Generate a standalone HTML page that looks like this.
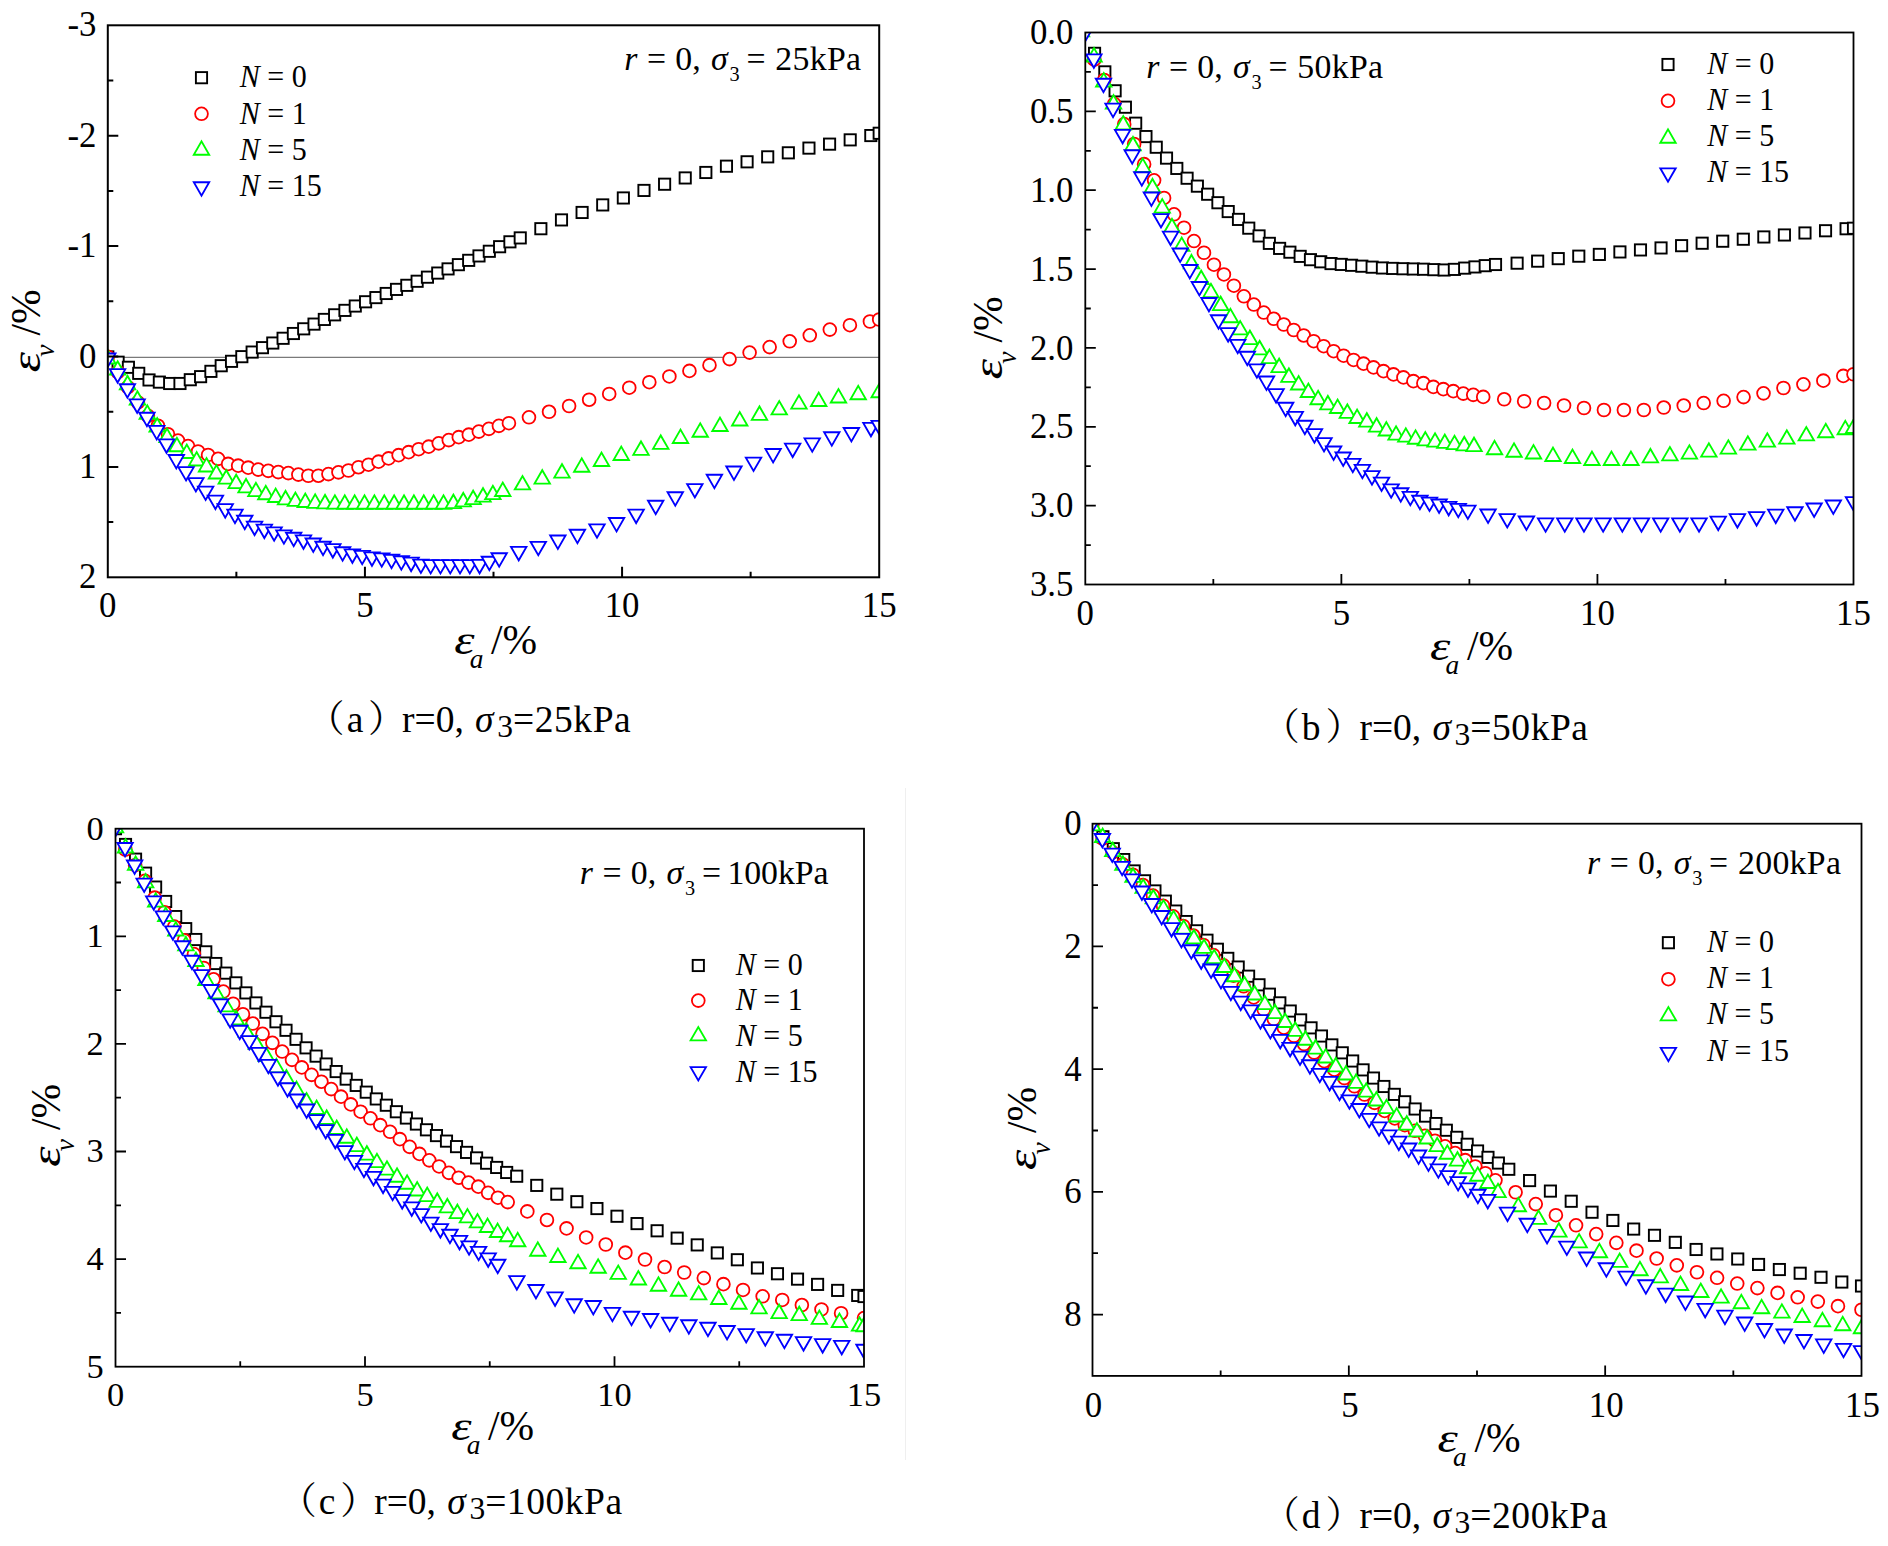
<!DOCTYPE html>
<html lang="zh"><head><meta charset="utf-8"><title>Volumetric strain vs axial strain</title>
<style>html,body{margin:0;padding:0;background:#fff}svg{display:block}text{font-family:'Liberation Serif', 'Noto Serif CJK SC', serif;fill:#000}</style></head><body>
<svg width="1888" height="1546" viewBox="0 0 1888 1546">
<rect width="1888" height="1546" fill="#fff"/>
<g class="panel">
<clipPath id="cp0"><rect x="107.8" y="25.3" width="771.4" height="552"/></clipPath>
<line x1="107.8" y1="357.3" x2="879.2" y2="357.3" stroke="#7a7a7a" stroke-width="1.2"/>
<g clip-path="url(#cp0)" fill="#fff">
<g stroke="#000000" stroke-width="1.9">
<rect x="102.2" y="351.3" width="11.2" height="11.2"/>
<rect x="112.51" y="356.61" width="11.2" height="11.2"/>
<rect x="122.82" y="361.69" width="11.2" height="11.2"/>
<rect x="133.13" y="367.74" width="11.2" height="11.2"/>
<rect x="143.44" y="374.35" width="11.2" height="11.2"/>
<rect x="153.76" y="376.51" width="11.2" height="11.2"/>
<rect x="164.07" y="377.9" width="11.2" height="11.2"/>
<rect x="174.38" y="377.89" width="11.2" height="11.2"/>
<rect x="184.69" y="374.11" width="11.2" height="11.2"/>
<rect x="195" y="371.06" width="11.2" height="11.2"/>
<rect x="205.31" y="365.75" width="11.2" height="11.2"/>
<rect x="215.62" y="360.12" width="11.2" height="11.2"/>
<rect x="225.93" y="355.72" width="11.2" height="11.2"/>
<rect x="236.24" y="351.07" width="11.2" height="11.2"/>
<rect x="246.55" y="346.47" width="11.2" height="11.2"/>
<rect x="256.87" y="342.07" width="11.2" height="11.2"/>
<rect x="267.18" y="337.43" width="11.2" height="11.2"/>
<rect x="277.49" y="332.68" width="11.2" height="11.2"/>
<rect x="287.8" y="327.91" width="11.2" height="11.2"/>
<rect x="298.11" y="323.22" width="11.2" height="11.2"/>
<rect x="308.42" y="318.51" width="11.2" height="11.2"/>
<rect x="318.73" y="313.83" width="11.2" height="11.2"/>
<rect x="329.04" y="309.23" width="11.2" height="11.2"/>
<rect x="339.35" y="304.78" width="11.2" height="11.2"/>
<rect x="349.67" y="300.43" width="11.2" height="11.2"/>
<rect x="359.98" y="296.18" width="11.2" height="11.2"/>
<rect x="370.29" y="292" width="11.2" height="11.2"/>
<rect x="380.6" y="287.88" width="11.2" height="11.2"/>
<rect x="390.91" y="283.79" width="11.2" height="11.2"/>
<rect x="401.22" y="279.72" width="11.2" height="11.2"/>
<rect x="411.53" y="275.66" width="11.2" height="11.2"/>
<rect x="421.84" y="271.58" width="11.2" height="11.2"/>
<rect x="432.15" y="267.46" width="11.2" height="11.2"/>
<rect x="442.46" y="263.3" width="11.2" height="11.2"/>
<rect x="452.78" y="259.07" width="11.2" height="11.2"/>
<rect x="463.09" y="254.75" width="11.2" height="11.2"/>
<rect x="473.4" y="250.32" width="11.2" height="11.2"/>
<rect x="483.71" y="245.68" width="11.2" height="11.2"/>
<rect x="494.02" y="241.11" width="11.2" height="11.2"/>
<rect x="504.33" y="236.22" width="11.2" height="11.2"/>
<rect x="514.64" y="232.3" width="11.2" height="11.2"/>
<rect x="535.26" y="223.1" width="11.2" height="11.2"/>
<rect x="555.89" y="214.31" width="11.2" height="11.2"/>
<rect x="576.51" y="206.86" width="11.2" height="11.2"/>
<rect x="597.13" y="199.32" width="11.2" height="11.2"/>
<rect x="617.75" y="192.36" width="11.2" height="11.2"/>
<rect x="638.37" y="184.83" width="11.2" height="11.2"/>
<rect x="659" y="178.62" width="11.2" height="11.2"/>
<rect x="679.62" y="172.34" width="11.2" height="11.2"/>
<rect x="700.24" y="166.87" width="11.2" height="11.2"/>
<rect x="720.86" y="160.6" width="11.2" height="11.2"/>
<rect x="741.48" y="156.21" width="11.2" height="11.2"/>
<rect x="762.11" y="151.25" width="11.2" height="11.2"/>
<rect x="782.73" y="147.22" width="11.2" height="11.2"/>
<rect x="803.35" y="142.5" width="11.2" height="11.2"/>
<rect x="823.97" y="138.54" width="11.2" height="11.2"/>
<rect x="844.6" y="134.26" width="11.2" height="11.2"/>
<rect x="865.22" y="129.95" width="11.2" height="11.2"/>
<rect x="873.6" y="127.66" width="11.2" height="11.2"/>
</g>
<g stroke="#ff0000" stroke-width="1.8">
<circle cx="107.8" cy="356.69" r="6.4"/>
<circle cx="117.83" cy="371.99" r="6.4"/>
<circle cx="127.86" cy="387.2" r="6.4"/>
<circle cx="137.88" cy="402.42" r="6.4"/>
<circle cx="147.91" cy="415.8" r="6.4"/>
<circle cx="157.94" cy="425.75" r="6.4"/>
<circle cx="167.97" cy="434.2" r="6.4"/>
<circle cx="178" cy="440.56" r="6.4"/>
<circle cx="188.03" cy="446.07" r="6.4"/>
<circle cx="198.05" cy="451.51" r="6.4"/>
<circle cx="208.08" cy="454.96" r="6.4"/>
<circle cx="218.11" cy="458.84" r="6.4"/>
<circle cx="228.14" cy="463.91" r="6.4"/>
<circle cx="238.17" cy="465.63" r="6.4"/>
<circle cx="248.19" cy="467.64" r="6.4"/>
<circle cx="258.22" cy="469.61" r="6.4"/>
<circle cx="268.25" cy="470.84" r="6.4"/>
<circle cx="278.28" cy="472.08" r="6.4"/>
<circle cx="288.31" cy="473.1" r="6.4"/>
<circle cx="298.34" cy="474.62" r="6.4"/>
<circle cx="308.36" cy="475.75" r="6.4"/>
<circle cx="318.39" cy="475.73" r="6.4"/>
<circle cx="328.42" cy="474.1" r="6.4"/>
<circle cx="338.45" cy="472.34" r="6.4"/>
<circle cx="348.48" cy="470.51" r="6.4"/>
<circle cx="358.5" cy="467.22" r="6.4"/>
<circle cx="368.53" cy="464.71" r="6.4"/>
<circle cx="378.56" cy="461.67" r="6.4"/>
<circle cx="388.59" cy="458.39" r="6.4"/>
<circle cx="398.62" cy="455.15" r="6.4"/>
<circle cx="408.65" cy="452.15" r="6.4"/>
<circle cx="418.67" cy="449.19" r="6.4"/>
<circle cx="428.7" cy="446.65" r="6.4"/>
<circle cx="438.73" cy="443.35" r="6.4"/>
<circle cx="448.76" cy="440.11" r="6.4"/>
<circle cx="458.79" cy="437.16" r="6.4"/>
<circle cx="468.82" cy="434.63" r="6.4"/>
<circle cx="478.84" cy="431.62" r="6.4"/>
<circle cx="488.87" cy="428.85" r="6.4"/>
<circle cx="498.9" cy="425.86" r="6.4"/>
<circle cx="508.93" cy="423.2" r="6.4"/>
<circle cx="528.98" cy="417.29" r="6.4"/>
<circle cx="549.04" cy="411.78" r="6.4"/>
<circle cx="569.1" cy="405.99" r="6.4"/>
<circle cx="589.15" cy="399.73" r="6.4"/>
<circle cx="609.21" cy="393.96" r="6.4"/>
<circle cx="629.27" cy="387.7" r="6.4"/>
<circle cx="649.32" cy="382.2" r="6.4"/>
<circle cx="669.38" cy="376.43" r="6.4"/>
<circle cx="689.44" cy="370.92" r="6.4"/>
<circle cx="709.49" cy="365.14" r="6.4"/>
<circle cx="729.55" cy="359.09" r="6.4"/>
<circle cx="749.6" cy="352.6" r="6.4"/>
<circle cx="769.66" cy="347.1" r="6.4"/>
<circle cx="789.72" cy="341.32" r="6.4"/>
<circle cx="809.77" cy="335.3" r="6.4"/>
<circle cx="829.83" cy="329.6" r="6.4"/>
<circle cx="849.89" cy="325.18" r="6.4"/>
<circle cx="869.94" cy="321.51" r="6.4"/>
<circle cx="879.2" cy="319.51" r="6.4"/>
</g>
<g stroke="#00ff00" stroke-width="1.85">
<path d="M100.1 363.51L115.5 363.51L107.8 350.11Z"/>
<path d="M109.97 374.67L125.37 374.67L117.67 361.27Z"/>
<path d="M119.85 389.33L135.25 389.33L127.55 375.93Z"/>
<path d="M129.72 404.68L145.12 404.68L137.42 391.28Z"/>
<path d="M139.6 418.75L155 418.75L147.3 405.35Z"/>
<path d="M149.47 431.57L164.87 431.57L157.17 418.17Z"/>
<path d="M159.34 442.04L174.74 442.04L167.04 428.64Z"/>
<path d="M169.22 451.23L184.62 451.23L176.92 437.83Z"/>
<path d="M179.09 457.95L194.49 457.95L186.79 444.55Z"/>
<path d="M188.97 465.47L204.37 465.47L196.67 452.07Z"/>
<path d="M198.84 471.47L214.24 471.47L206.54 458.07Z"/>
<path d="M208.71 478.53L224.11 478.53L216.41 465.13Z"/>
<path d="M218.59 483.63L233.99 483.63L226.29 470.23Z"/>
<path d="M228.46 488.11L243.86 488.11L236.16 474.71Z"/>
<path d="M238.33 492.36L253.73 492.36L246.03 478.96Z"/>
<path d="M248.21 496.16L263.61 496.16L255.91 482.76Z"/>
<path d="M258.08 499.21L273.48 499.21L265.78 485.81Z"/>
<path d="M267.96 501.98L283.36 501.98L275.66 488.58Z"/>
<path d="M277.83 504.32L293.23 504.32L285.53 490.92Z"/>
<path d="M287.7 505.94L303.1 505.94L295.4 492.54Z"/>
<path d="M297.58 507L312.98 507L305.28 493.6Z"/>
<path d="M307.45 507.8L322.85 507.8L315.15 494.4Z"/>
<path d="M317.33 508.35L332.73 508.35L325.03 494.95Z"/>
<path d="M327.2 508.67L342.6 508.67L334.9 495.27Z"/>
<path d="M337.07 508.7L352.47 508.7L344.77 495.3Z"/>
<path d="M346.95 508.7L362.35 508.7L354.65 495.3Z"/>
<path d="M356.82 508.7L372.22 508.7L364.52 495.3Z"/>
<path d="M366.7 508.7L382.1 508.7L374.4 495.3Z"/>
<path d="M376.57 508.7L391.97 508.7L384.27 495.3Z"/>
<path d="M386.44 508.7L401.84 508.7L394.14 495.3Z"/>
<path d="M396.32 508.7L411.72 508.7L404.02 495.3Z"/>
<path d="M406.19 508.7L421.59 508.7L413.89 495.3Z"/>
<path d="M416.07 508.7L431.47 508.7L423.77 495.3Z"/>
<path d="M425.94 508.7L441.34 508.7L433.64 495.3Z"/>
<path d="M435.81 508.7L451.21 508.7L443.51 495.3Z"/>
<path d="M445.69 508.13L461.09 508.13L453.39 494.73Z"/>
<path d="M455.56 506.38L470.96 506.38L463.26 492.98Z"/>
<path d="M465.44 504.07L480.84 504.07L473.14 490.67Z"/>
<path d="M475.31 501.57L490.71 501.57L483.01 488.17Z"/>
<path d="M485.18 499.17L500.58 499.17L492.88 485.77Z"/>
<path d="M495.06 496.03L510.46 496.03L502.76 482.63Z"/>
<path d="M514.8 489.43L530.2 489.43L522.5 476.03Z"/>
<path d="M534.55 483.6L549.95 483.6L542.25 470.2Z"/>
<path d="M554.3 477.6L569.7 477.6L562 464.2Z"/>
<path d="M574.05 471.77L589.45 471.77L581.75 458.37Z"/>
<path d="M593.8 465.95L609.2 465.95L601.5 452.55Z"/>
<path d="M613.54 460.02L628.94 460.02L621.24 446.62Z"/>
<path d="M633.29 454.84L648.69 454.84L640.99 441.44Z"/>
<path d="M653.04 448.85L668.44 448.85L660.74 435.45Z"/>
<path d="M672.79 443.03L688.19 443.03L680.49 429.63Z"/>
<path d="M692.54 436.7L707.94 436.7L700.24 423.3Z"/>
<path d="M712.28 430.95L727.68 430.95L719.98 417.55Z"/>
<path d="M732.03 425.53L747.43 425.53L739.73 412.13Z"/>
<path d="M751.78 419.85L767.18 419.85L759.48 406.45Z"/>
<path d="M771.53 414.42L786.93 414.42L779.23 401.02Z"/>
<path d="M791.27 408.65L806.67 408.65L798.97 395.25Z"/>
<path d="M811.02 405.99L826.42 405.99L818.72 392.59Z"/>
<path d="M830.77 402.54L846.17 402.54L838.47 389.14Z"/>
<path d="M850.52 399.27L865.92 399.27L858.22 385.87Z"/>
<path d="M871.5 397.2L886.9 397.2L879.2 383.8Z"/>
</g>
<g stroke="#0000ff" stroke-width="1.85">
<path d="M100.1 353.47L115.5 353.47L107.8 366.87Z"/>
<path d="M109.88 369.16L125.28 369.16L117.58 382.56Z"/>
<path d="M119.67 384.26L135.07 384.26L127.37 397.66Z"/>
<path d="M129.45 399.37L144.85 399.37L137.15 412.77Z"/>
<path d="M139.24 412.78L154.64 412.78L146.94 426.18Z"/>
<path d="M149.02 425.94L164.42 425.94L156.72 439.34Z"/>
<path d="M158.8 439.43L174.2 439.43L166.5 452.83Z"/>
<path d="M168.59 455.01L183.99 455.01L176.29 468.41Z"/>
<path d="M178.37 467.11L193.77 467.11L186.07 480.51Z"/>
<path d="M188.16 478.05L203.56 478.05L195.86 491.45Z"/>
<path d="M197.94 486.59L213.34 486.59L205.64 499.99Z"/>
<path d="M207.72 495.68L223.12 495.68L215.42 509.08Z"/>
<path d="M217.51 504.19L232.91 504.19L225.21 517.59Z"/>
<path d="M227.29 509.69L242.69 509.69L234.99 523.09Z"/>
<path d="M237.07 515.76L252.47 515.76L244.77 529.16Z"/>
<path d="M246.86 521.62L262.26 521.62L254.56 535.02Z"/>
<path d="M256.64 524.68L272.04 524.68L264.34 538.08Z"/>
<path d="M266.43 527.31L281.83 527.31L274.13 540.71Z"/>
<path d="M276.21 530.34L291.61 530.34L283.91 543.74Z"/>
<path d="M285.99 532.79L301.39 532.79L293.69 546.19Z"/>
<path d="M295.78 535.41L311.18 535.41L303.48 548.81Z"/>
<path d="M305.56 538.45L320.96 538.45L313.26 551.85Z"/>
<path d="M315.35 541.7L330.75 541.7L323.05 555.1Z"/>
<path d="M325.13 544.14L340.53 544.14L332.83 557.54Z"/>
<path d="M334.91 547.23L350.31 547.23L342.61 560.63Z"/>
<path d="M344.7 549.37L360.1 549.37L352.4 562.77Z"/>
<path d="M354.48 550.86L369.88 550.86L362.18 564.26Z"/>
<path d="M364.27 552.37L379.67 552.37L371.97 565.77Z"/>
<path d="M374.05 553.34L389.45 553.34L381.75 566.74Z"/>
<path d="M383.83 554.71L399.23 554.71L391.53 568.11Z"/>
<path d="M393.62 556.21L409.02 556.21L401.32 569.61Z"/>
<path d="M403.4 557.67L418.8 557.67L411.1 571.07Z"/>
<path d="M413.19 559.58L428.59 559.58L420.89 572.98Z"/>
<path d="M422.97 560.1L438.37 560.1L430.67 573.5Z"/>
<path d="M432.75 560.1L448.15 560.1L440.45 573.5Z"/>
<path d="M442.54 560.1L457.94 560.1L450.24 573.5Z"/>
<path d="M452.32 560.1L467.72 560.1L460.02 573.5Z"/>
<path d="M462.11 560.1L477.51 560.1L469.81 573.5Z"/>
<path d="M471.89 559.89L487.29 559.89L479.59 573.29Z"/>
<path d="M481.67 556.7L497.07 556.7L489.37 570.1Z"/>
<path d="M491.46 553.28L506.86 553.28L499.16 566.68Z"/>
<path d="M511.02 546.91L526.42 546.91L518.72 560.31Z"/>
<path d="M530.59 541.82L545.99 541.82L538.29 555.22Z"/>
<path d="M550.16 535.54L565.56 535.54L557.86 548.94Z"/>
<path d="M569.73 529.79L585.13 529.79L577.43 543.19Z"/>
<path d="M589.3 524.33L604.7 524.33L597 537.73Z"/>
<path d="M608.86 518L624.26 518L616.56 531.4Z"/>
<path d="M628.43 509.66L643.83 509.66L636.13 523.06Z"/>
<path d="M648 500.77L663.4 500.77L655.7 514.17Z"/>
<path d="M667.57 492.26L682.97 492.26L675.27 505.66Z"/>
<path d="M687.14 484.06L702.54 484.06L694.84 497.46Z"/>
<path d="M706.7 474.79L722.1 474.79L714.4 488.19Z"/>
<path d="M726.27 466.51L741.67 466.51L733.97 479.91Z"/>
<path d="M745.84 457.59L761.24 457.59L753.54 470.99Z"/>
<path d="M765.41 449.01L780.81 449.01L773.11 462.41Z"/>
<path d="M784.97 443.66L800.37 443.66L792.67 457.06Z"/>
<path d="M804.54 438.36L819.94 438.36L812.24 451.76Z"/>
<path d="M824.11 432.28L839.51 432.28L831.81 445.68Z"/>
<path d="M843.68 427.97L859.08 427.97L851.38 441.37Z"/>
<path d="M863.25 422.93L878.65 422.93L870.95 436.33Z"/>
<path d="M871.5 420.81L886.9 420.81L879.2 434.21Z"/>
</g>
</g>
<g stroke="#000" stroke-width="2" fill="none" stroke-linecap="butt">
<rect x="107.8" y="25.3" width="771.4" height="552"/>
<path d="M364.93 577.3v-10.5M622.07 577.3v-10.5M236.37 577.3v-5.5M493.5 577.3v-5.5M750.63 577.3v-5.5M107.8 135.7h10.5M107.8 246.1h10.5M107.8 356.5h10.5M107.8 466.9h10.5M107.8 80.5h5.5M107.8 190.9h5.5M107.8 301.3h5.5M107.8 411.7h5.5M107.8 522.1h5.5"/>
</g>
<g font-size="34.8" fill="#000">
<g text-anchor="end">
<text x="96.5" y="36.3">-3</text>
<text x="96.5" y="146.7">-2</text>
<text x="96.5" y="257.1">-1</text>
<text x="96.5" y="367.5">0</text>
<text x="96.5" y="477.9">1</text>
<text x="96.5" y="588.3">2</text>
</g><g text-anchor="middle">
<text x="107.8" y="617.1">0</text>
<text x="364.93" y="617.1">5</text>
<text x="622.07" y="617.1">10</text>
<text x="879.2" y="617.1">15</text>
</g></g>
<g transform="translate(454.5 653.5)"><text font-size="41.5" font-style="italic" transform="scale(1.24 1)" x="-0.3" y="0">ε</text><text font-size="27.39" font-style="italic" x="15.2" y="14.2">a</text><text font-size="41.5" x="36.6" y="0">/%</text></g>
<g transform="translate(39.6 372) rotate(-90)"><text font-size="41.5" font-style="italic" transform="scale(1.24 1)" x="-0.3" y="0">ε</text><text font-size="27.39" font-style="italic" x="15.2" y="14.2">v</text><text font-size="41.5" x="36.6" y="0">/%</text></g>
<text y="70" font-size="33.8"><tspan x="624.3" font-style="italic">r</tspan><tspan x="647">=</tspan><tspan x="675.3">0,</tspan><tspan x="711" font-style="italic">σ</tspan><tspan x="729.5" font-size="20.28" dy="11.15">3</tspan><tspan x="746.4" dy="-11.15">=</tspan><tspan x="775.3" letter-spacing="0.3">25kPa</tspan></text>
<g fill="#fff">
<g stroke="#000000" stroke-width="1.9"><rect x="195.9" y="72.1" width="11.2" height="11.2"/></g>
<g stroke="#ff0000" stroke-width="1.8"><circle cx="201.5" cy="113.8" r="6.4"/></g>
<g stroke="#00ff00" stroke-width="1.85"><path d="M193.8 154.7L209.2 154.7L201.5 141.3Z"/></g>
<g stroke="#0000ff" stroke-width="1.85"><path d="M193.8 182.2L209.2 182.2L201.5 195.6Z"/></g>
</g>
<g font-size="30">
<text transform="translate(239.8 87.2) scale(1 1.08)"><tspan font-style="italic">N</tspan> = 0</text>
<text transform="translate(239.8 123.6) scale(1 1.08)"><tspan font-style="italic">N</tspan> = 1</text>
<text transform="translate(239.8 159.5) scale(1 1.08)"><tspan font-style="italic">N</tspan> = 5</text>
<text transform="translate(239.8 195.7) scale(1 1.08)"><tspan font-style="italic">N</tspan> = 15</text>
</g>
<text y="731.5" font-size="37.5"><tspan x="307.05">（</tspan><tspan x="346.65">a</tspan><tspan x="368.1">）</tspan><tspan x="402.1">r=0, </tspan><tspan font-style="italic" x="475.1">σ</tspan><tspan x="497.3" font-size="31.5" dy="5.25">3</tspan><tspan dy="-5.25" letter-spacing="0.55">=25kPa</tspan></text>
</g>
<g class="panel">
<clipPath id="cp1"><rect x="1085.3" y="32.5" width="768.2" height="552"/></clipPath>
<g clip-path="url(#cp1)" fill="#fff">
<g stroke="#000000" stroke-width="1.9">
<rect x="1079.7" y="18.4" width="11.2" height="11.2"/>
<rect x="1088.96" y="47.73" width="11.2" height="11.2"/>
<rect x="1099.24" y="66.27" width="11.2" height="11.2"/>
<rect x="1109.52" y="85.2" width="11.2" height="11.2"/>
<rect x="1119.8" y="101.59" width="11.2" height="11.2"/>
<rect x="1130.08" y="117.6" width="11.2" height="11.2"/>
<rect x="1140.36" y="130.97" width="11.2" height="11.2"/>
<rect x="1150.64" y="141.63" width="11.2" height="11.2"/>
<rect x="1160.92" y="152.51" width="11.2" height="11.2"/>
<rect x="1171.21" y="162.81" width="11.2" height="11.2"/>
<rect x="1181.49" y="172.62" width="11.2" height="11.2"/>
<rect x="1191.77" y="180.55" width="11.2" height="11.2"/>
<rect x="1202.05" y="188.62" width="11.2" height="11.2"/>
<rect x="1212.33" y="197.13" width="11.2" height="11.2"/>
<rect x="1222.61" y="205.96" width="11.2" height="11.2"/>
<rect x="1232.89" y="213.8" width="11.2" height="11.2"/>
<rect x="1243.17" y="222.56" width="11.2" height="11.2"/>
<rect x="1253.45" y="230.32" width="11.2" height="11.2"/>
<rect x="1263.74" y="237.76" width="11.2" height="11.2"/>
<rect x="1274.02" y="242.78" width="11.2" height="11.2"/>
<rect x="1284.3" y="246.58" width="11.2" height="11.2"/>
<rect x="1294.58" y="250.76" width="11.2" height="11.2"/>
<rect x="1304.86" y="254.08" width="11.2" height="11.2"/>
<rect x="1315.14" y="256.18" width="11.2" height="11.2"/>
<rect x="1325.42" y="257.98" width="11.2" height="11.2"/>
<rect x="1335.7" y="258.81" width="11.2" height="11.2"/>
<rect x="1345.98" y="259.68" width="11.2" height="11.2"/>
<rect x="1356.26" y="260.59" width="11.2" height="11.2"/>
<rect x="1366.55" y="261.56" width="11.2" height="11.2"/>
<rect x="1376.83" y="262.37" width="11.2" height="11.2"/>
<rect x="1387.11" y="262.81" width="11.2" height="11.2"/>
<rect x="1397.39" y="263.13" width="11.2" height="11.2"/>
<rect x="1407.67" y="263.38" width="11.2" height="11.2"/>
<rect x="1417.95" y="263.62" width="11.2" height="11.2"/>
<rect x="1428.23" y="264.06" width="11.2" height="11.2"/>
<rect x="1438.51" y="264.4" width="11.2" height="11.2"/>
<rect x="1448.79" y="263.79" width="11.2" height="11.2"/>
<rect x="1459.08" y="262.52" width="11.2" height="11.2"/>
<rect x="1469.36" y="261.33" width="11.2" height="11.2"/>
<rect x="1479.64" y="260.08" width="11.2" height="11.2"/>
<rect x="1489.92" y="258.9" width="11.2" height="11.2"/>
<rect x="1511.51" y="257.57" width="11.2" height="11.2"/>
<rect x="1532.07" y="255.55" width="11.2" height="11.2"/>
<rect x="1552.63" y="253.03" width="11.2" height="11.2"/>
<rect x="1573.19" y="250.57" width="11.2" height="11.2"/>
<rect x="1593.75" y="248.81" width="11.2" height="11.2"/>
<rect x="1614.32" y="246.33" width="11.2" height="11.2"/>
<rect x="1634.88" y="244.33" width="11.2" height="11.2"/>
<rect x="1655.44" y="242.34" width="11.2" height="11.2"/>
<rect x="1676" y="240.08" width="11.2" height="11.2"/>
<rect x="1696.56" y="237.61" width="11.2" height="11.2"/>
<rect x="1717.13" y="235.6" width="11.2" height="11.2"/>
<rect x="1737.69" y="233.62" width="11.2" height="11.2"/>
<rect x="1758.25" y="231.36" width="11.2" height="11.2"/>
<rect x="1778.81" y="229.38" width="11.2" height="11.2"/>
<rect x="1799.38" y="227.38" width="11.2" height="11.2"/>
<rect x="1819.94" y="225.15" width="11.2" height="11.2"/>
<rect x="1840.5" y="223.14" width="11.2" height="11.2"/>
<rect x="1847.9" y="222.65" width="11.2" height="11.2"/>
</g>
<g stroke="#ff0000" stroke-width="1.8">
<circle cx="1085.3" cy="26" r="6.4"/>
<circle cx="1094.25" cy="59.63" r="6.4"/>
<circle cx="1104.22" cy="80" r="6.4"/>
<circle cx="1114.2" cy="103.87" r="6.4"/>
<circle cx="1124.17" cy="124.15" r="6.4"/>
<circle cx="1134.14" cy="143.99" r="6.4"/>
<circle cx="1144.12" cy="164.13" r="6.4"/>
<circle cx="1154.09" cy="180.32" r="6.4"/>
<circle cx="1164.07" cy="197.94" r="6.4"/>
<circle cx="1174.04" cy="214.32" r="6.4"/>
<circle cx="1184.01" cy="227.68" r="6.4"/>
<circle cx="1193.99" cy="241.05" r="6.4"/>
<circle cx="1203.96" cy="252.75" r="6.4"/>
<circle cx="1213.94" cy="264.7" r="6.4"/>
<circle cx="1223.91" cy="274.45" r="6.4"/>
<circle cx="1233.88" cy="285.7" r="6.4"/>
<circle cx="1243.86" cy="296.31" r="6.4"/>
<circle cx="1253.83" cy="304.57" r="6.4"/>
<circle cx="1263.8" cy="312.54" r="6.4"/>
<circle cx="1273.78" cy="318.77" r="6.4"/>
<circle cx="1283.75" cy="324.5" r="6.4"/>
<circle cx="1293.73" cy="329.99" r="6.4"/>
<circle cx="1303.7" cy="335.47" r="6.4"/>
<circle cx="1313.67" cy="341.21" r="6.4"/>
<circle cx="1323.65" cy="346.2" r="6.4"/>
<circle cx="1333.62" cy="351.19" r="6.4"/>
<circle cx="1343.59" cy="355.68" r="6.4"/>
<circle cx="1353.57" cy="359.93" r="6.4"/>
<circle cx="1363.54" cy="363.67" r="6.4"/>
<circle cx="1373.52" cy="367.41" r="6.4"/>
<circle cx="1383.49" cy="371.16" r="6.4"/>
<circle cx="1393.46" cy="374.41" r="6.4"/>
<circle cx="1403.44" cy="377.4" r="6.4"/>
<circle cx="1413.41" cy="381.16" r="6.4"/>
<circle cx="1423.38" cy="383.16" r="6.4"/>
<circle cx="1433.36" cy="386.89" r="6.4"/>
<circle cx="1443.33" cy="389.16" r="6.4"/>
<circle cx="1453.31" cy="391.15" r="6.4"/>
<circle cx="1463.28" cy="393.58" r="6.4"/>
<circle cx="1473.25" cy="394.85" r="6.4"/>
<circle cx="1483.23" cy="396.92" r="6.4"/>
<circle cx="1504.2" cy="399.27" r="6.4"/>
<circle cx="1524.15" cy="401.26" r="6.4"/>
<circle cx="1544.09" cy="403.01" r="6.4"/>
<circle cx="1564.04" cy="405.51" r="6.4"/>
<circle cx="1583.99" cy="408" r="6.4"/>
<circle cx="1603.94" cy="410" r="6.4"/>
<circle cx="1623.89" cy="410" r="6.4"/>
<circle cx="1643.83" cy="410" r="6.4"/>
<circle cx="1663.78" cy="407.52" r="6.4"/>
<circle cx="1683.73" cy="405.53" r="6.4"/>
<circle cx="1703.68" cy="403.04" r="6.4"/>
<circle cx="1723.62" cy="400.8" r="6.4"/>
<circle cx="1743.57" cy="397.08" r="6.4"/>
<circle cx="1763.52" cy="393.36" r="6.4"/>
<circle cx="1783.47" cy="388.01" r="6.4"/>
<circle cx="1803.41" cy="384.36" r="6.4"/>
<circle cx="1823.36" cy="380.63" r="6.4"/>
<circle cx="1843.31" cy="375.88" r="6.4"/>
<circle cx="1853.5" cy="374.25" r="6.4"/>
</g>
<g stroke="#00ff00" stroke-width="1.85">
<path d="M1073.76 36.2L1089.16 36.2L1081.46 22.8Z"/>
<path d="M1086.32 61.49L1101.72 61.49L1094.02 48.09Z"/>
<path d="M1096.06 86.53L1111.46 86.53L1103.76 73.13Z"/>
<path d="M1105.81 108.55L1121.21 108.55L1113.51 95.15Z"/>
<path d="M1115.55 129.52L1130.95 129.52L1123.25 116.12Z"/>
<path d="M1125.29 150.38L1140.69 150.38L1132.99 136.98Z"/>
<path d="M1135.04 171.97L1150.44 171.97L1142.74 158.57Z"/>
<path d="M1144.78 192.36L1160.18 192.36L1152.48 178.96Z"/>
<path d="M1154.52 212.56L1169.92 212.56L1162.22 199.16Z"/>
<path d="M1164.27 232.19L1179.67 232.19L1171.97 218.79Z"/>
<path d="M1174.01 250.91L1189.41 250.91L1181.71 237.51Z"/>
<path d="M1183.75 268.34L1199.15 268.34L1191.45 254.94Z"/>
<path d="M1193.5 284.12L1208.9 284.12L1201.2 270.72Z"/>
<path d="M1203.24 297.29L1218.64 297.29L1210.94 283.89Z"/>
<path d="M1212.98 310.07L1228.38 310.07L1220.68 296.67Z"/>
<path d="M1222.73 322.23L1238.13 322.23L1230.43 308.83Z"/>
<path d="M1232.47 334.39L1247.87 334.39L1240.17 320.99Z"/>
<path d="M1242.21 344.12L1257.61 344.12L1249.91 330.72Z"/>
<path d="M1251.96 354.35L1267.36 354.35L1259.66 340.95Z"/>
<path d="M1261.7 363.09L1277.1 363.09L1269.4 349.69Z"/>
<path d="M1271.44 372.08L1286.84 372.08L1279.14 358.68Z"/>
<path d="M1281.19 381.82L1296.59 381.82L1288.89 368.42Z"/>
<path d="M1290.93 389.5L1306.33 389.5L1298.63 376.1Z"/>
<path d="M1300.67 396.98L1316.07 396.98L1308.37 383.58Z"/>
<path d="M1310.42 404.27L1325.82 404.27L1318.12 390.87Z"/>
<path d="M1320.16 409.36L1335.56 409.36L1327.86 395.96Z"/>
<path d="M1329.9 412.99L1345.3 412.99L1337.6 399.59Z"/>
<path d="M1339.65 417.87L1355.05 417.87L1347.35 404.47Z"/>
<path d="M1349.39 422.99L1364.79 422.99L1357.09 409.59Z"/>
<path d="M1359.13 426.63L1374.53 426.63L1366.83 413.23Z"/>
<path d="M1368.88 431.62L1384.28 431.62L1376.58 418.22Z"/>
<path d="M1378.62 435.48L1394.02 435.48L1386.32 422.08Z"/>
<path d="M1388.36 439.65L1403.76 439.65L1396.06 426.25Z"/>
<path d="M1398.11 441.66L1413.51 441.66L1405.81 428.26Z"/>
<path d="M1407.85 443.71L1423.25 443.71L1415.55 430.31Z"/>
<path d="M1417.59 445.42L1432.99 445.42L1425.29 432.02Z"/>
<path d="M1427.34 446.64L1442.74 446.64L1435.04 433.24Z"/>
<path d="M1437.08 447.92L1452.48 447.92L1444.78 434.52Z"/>
<path d="M1446.82 449.14L1462.22 449.14L1454.52 435.74Z"/>
<path d="M1456.57 450.38L1471.97 450.38L1464.27 436.98Z"/>
<path d="M1466.31 451.11L1481.71 451.11L1474.01 437.71Z"/>
<path d="M1486.82 454.24L1502.22 454.24L1494.52 440.84Z"/>
<path d="M1506.31 456.75L1521.71 456.75L1514.01 443.35Z"/>
<path d="M1525.79 458.5L1541.19 458.5L1533.49 445.1Z"/>
<path d="M1545.28 461L1560.68 461L1552.98 447.6Z"/>
<path d="M1564.77 462.97L1580.17 462.97L1572.47 449.57Z"/>
<path d="M1584.25 464.95L1599.65 464.95L1591.95 451.55Z"/>
<path d="M1603.74 464.95L1619.14 464.95L1611.44 451.55Z"/>
<path d="M1623.23 464.95L1638.63 464.95L1630.93 451.55Z"/>
<path d="M1642.71 462.37L1658.11 462.37L1650.41 448.97Z"/>
<path d="M1662.2 460.39L1677.6 460.39L1669.9 446.99Z"/>
<path d="M1681.69 458.66L1697.09 458.66L1689.39 445.26Z"/>
<path d="M1701.17 456.65L1716.57 456.65L1708.87 443.25Z"/>
<path d="M1720.66 453.64L1736.06 453.64L1728.36 440.24Z"/>
<path d="M1740.15 449.68L1755.55 449.68L1747.85 436.28Z"/>
<path d="M1759.63 446.69L1775.03 446.69L1767.33 433.29Z"/>
<path d="M1779.12 443.69L1794.52 443.69L1786.82 430.29Z"/>
<path d="M1798.61 440.44L1814.01 440.44L1806.31 427.04Z"/>
<path d="M1818.09 437.23L1833.49 437.23L1825.79 423.83Z"/>
<path d="M1837.58 434.23L1852.98 434.23L1845.28 420.83Z"/>
<path d="M1845.8 432.95L1861.2 432.95L1853.5 419.55Z"/>
</g>
<g stroke="#0000ff" stroke-width="1.85">
<path d="M1077.6 27.7L1093 27.7L1085.3 41.1Z"/>
<path d="M1086.17 54.38L1101.57 54.38L1093.87 67.78Z"/>
<path d="M1095.76 78.72L1111.16 78.72L1103.46 92.12Z"/>
<path d="M1105.34 103.69L1120.74 103.69L1113.04 117.09Z"/>
<path d="M1114.93 129.9L1130.33 129.9L1122.63 143.3Z"/>
<path d="M1124.52 150.26L1139.92 150.26L1132.22 163.66Z"/>
<path d="M1134.11 172.29L1149.51 172.29L1141.81 185.69Z"/>
<path d="M1143.7 192.49L1159.1 192.49L1151.4 205.89Z"/>
<path d="M1153.29 214.08L1168.69 214.08L1160.99 227.48Z"/>
<path d="M1162.88 231.67L1178.28 231.67L1170.58 245.07Z"/>
<path d="M1172.47 248.5L1187.87 248.5L1180.17 261.9Z"/>
<path d="M1182.06 264.97L1197.46 264.97L1189.76 278.37Z"/>
<path d="M1191.65 282.02L1207.05 282.02L1199.35 295.42Z"/>
<path d="M1201.24 298.03L1216.64 298.03L1208.94 311.43Z"/>
<path d="M1210.83 315.25L1226.23 315.25L1218.53 328.65Z"/>
<path d="M1220.42 328.13L1235.82 328.13L1228.12 341.53Z"/>
<path d="M1230.01 339.82L1245.41 339.82L1237.71 353.22Z"/>
<path d="M1239.6 351.78L1255 351.78L1247.3 365.18Z"/>
<path d="M1249.19 364.33L1264.59 364.33L1256.89 377.73Z"/>
<path d="M1258.78 376.49L1274.18 376.49L1266.48 389.89Z"/>
<path d="M1268.37 389.17L1283.77 389.17L1276.07 402.57Z"/>
<path d="M1277.96 402.71L1293.36 402.71L1285.66 416.11Z"/>
<path d="M1287.55 411.87L1302.95 411.87L1295.25 425.27Z"/>
<path d="M1297.14 420.75L1312.54 420.75L1304.84 434.15Z"/>
<path d="M1306.73 429.19L1322.13 429.19L1314.43 442.59Z"/>
<path d="M1316.32 438.06L1331.72 438.06L1324.02 451.46Z"/>
<path d="M1325.91 446.45L1341.31 446.45L1333.61 459.85Z"/>
<path d="M1335.5 452.45L1350.9 452.45L1343.2 465.85Z"/>
<path d="M1345.09 458.85L1360.49 458.85L1352.79 472.25Z"/>
<path d="M1354.68 464.84L1370.08 464.84L1362.38 478.24Z"/>
<path d="M1364.27 471.19L1379.67 471.19L1371.97 484.59Z"/>
<path d="M1373.86 477.57L1389.26 477.57L1381.56 490.97Z"/>
<path d="M1383.45 484.3L1398.85 484.3L1391.15 497.7Z"/>
<path d="M1393.04 488.2L1408.44 488.2L1400.74 501.6Z"/>
<path d="M1402.63 491.84L1418.03 491.84L1410.33 505.24Z"/>
<path d="M1412.22 495.71L1427.62 495.71L1419.92 509.11Z"/>
<path d="M1421.8 497.59L1437.2 497.59L1429.5 510.99Z"/>
<path d="M1431.39 499.5L1446.79 499.5L1439.09 512.9Z"/>
<path d="M1440.98 501.9L1456.38 501.9L1448.68 515.3Z"/>
<path d="M1450.57 503.84L1465.97 503.84L1458.27 517.24Z"/>
<path d="M1460.16 505.59L1475.56 505.59L1467.86 518.99Z"/>
<path d="M1480.37 509.46L1495.77 509.46L1488.07 522.86Z"/>
<path d="M1499.55 514.05L1514.95 514.05L1507.25 527.45Z"/>
<path d="M1518.73 516.54L1534.13 516.54L1526.43 529.94Z"/>
<path d="M1537.91 518.3L1553.31 518.3L1545.61 531.7Z"/>
<path d="M1557.08 518.3L1572.48 518.3L1564.78 531.7Z"/>
<path d="M1576.26 518.3L1591.66 518.3L1583.96 531.7Z"/>
<path d="M1595.44 518.3L1610.84 518.3L1603.14 531.7Z"/>
<path d="M1614.62 518.3L1630.02 518.3L1622.32 531.7Z"/>
<path d="M1633.8 518.3L1649.2 518.3L1641.5 531.7Z"/>
<path d="M1652.98 518.3L1668.38 518.3L1660.68 531.7Z"/>
<path d="M1672.16 518.3L1687.56 518.3L1679.86 531.7Z"/>
<path d="M1691.34 518.3L1706.74 518.3L1699.04 531.7Z"/>
<path d="M1710.52 516.63L1725.92 516.63L1718.22 530.03Z"/>
<path d="M1729.7 514.18L1745.1 514.18L1737.4 527.58Z"/>
<path d="M1748.88 512.18L1764.28 512.18L1756.58 525.58Z"/>
<path d="M1768.06 509.68L1783.46 509.68L1775.76 523.08Z"/>
<path d="M1787.24 507.21L1802.64 507.21L1794.94 520.61Z"/>
<path d="M1806.42 503.5L1821.82 503.5L1814.12 516.9Z"/>
<path d="M1825.6 500.53L1841 500.53L1833.3 513.93Z"/>
<path d="M1845.8 497.05L1861.2 497.05L1853.5 510.45Z"/>
</g>
</g>
<g stroke="#000" stroke-width="1.8" fill="none" stroke-linecap="butt">
<rect x="1085.3" y="32.5" width="768.2" height="552"/>
<path d="M1341.37 584.5v-10.5M1597.43 584.5v-10.5M1213.33 584.5v-5.5M1469.4 584.5v-5.5M1725.47 584.5v-5.5M1085.3 111.36h10.5M1085.3 190.21h10.5M1085.3 269.07h10.5M1085.3 347.93h10.5M1085.3 426.79h10.5M1085.3 505.64h10.5M1085.3 71.93h5.5M1085.3 150.79h5.5M1085.3 229.64h5.5M1085.3 308.5h5.5M1085.3 387.36h5.5M1085.3 466.21h5.5M1085.3 545.07h5.5"/>
</g>
<g font-size="34.8" fill="#000">
<g text-anchor="end">
<text x="1073.4" y="44.1">0.0</text>
<text x="1073.4" y="122.96">0.5</text>
<text x="1073.4" y="201.81">1.0</text>
<text x="1073.4" y="280.67">1.5</text>
<text x="1073.4" y="359.53">2.0</text>
<text x="1073.4" y="438.39">2.5</text>
<text x="1073.4" y="517.24">3.0</text>
<text x="1073.4" y="596.1">3.5</text>
</g><g text-anchor="middle">
<text x="1085.3" y="624.5">0</text>
<text x="1341.37" y="624.5">5</text>
<text x="1597.43" y="624.5">10</text>
<text x="1853.5" y="624.5">15</text>
</g></g>
<g transform="translate(1430.3 659.9)"><text font-size="41.5" font-style="italic" transform="scale(1.24 1)" x="-0.3" y="0">ε</text><text font-size="27.39" font-style="italic" x="15.2" y="14.2">a</text><text font-size="41.5" x="36.6" y="0">/%</text></g>
<g transform="translate(1002 379) rotate(-90)"><text font-size="41.5" font-style="italic" transform="scale(1.24 1)" x="-0.3" y="0">ε</text><text font-size="27.39" font-style="italic" x="15.2" y="14.2">v</text><text font-size="41.5" x="36.6" y="0">/%</text></g>
<text y="77.5" font-size="33.8"><tspan x="1146.3" font-style="italic">r</tspan><tspan x="1169">=</tspan><tspan x="1197.3">0,</tspan><tspan x="1233" font-style="italic">σ</tspan><tspan x="1251.5" font-size="20.28" dy="11.15">3</tspan><tspan x="1268.4" dy="-11.15">=</tspan><tspan x="1297.3" letter-spacing="0.3">50kPa</tspan></text>
<g fill="#fff">
<g stroke="#000000" stroke-width="1.9"><rect x="1662.4" y="58.9" width="11.2" height="11.2"/></g>
<g stroke="#ff0000" stroke-width="1.8"><circle cx="1668" cy="100.8" r="6.4"/></g>
<g stroke="#00ff00" stroke-width="1.85"><path d="M1660.3 142.7L1675.7 142.7L1668 129.3Z"/></g>
<g stroke="#0000ff" stroke-width="1.85"><path d="M1660.3 168.3L1675.7 168.3L1668 181.7Z"/></g>
</g>
<g font-size="30">
<text transform="translate(1707.2 73.8) scale(1 1.08)"><tspan font-style="italic">N</tspan> = 0</text>
<text transform="translate(1707.2 110) scale(1 1.08)"><tspan font-style="italic">N</tspan> = 1</text>
<text transform="translate(1707.2 145.8) scale(1 1.08)"><tspan font-style="italic">N</tspan> = 5</text>
<text transform="translate(1707.2 182) scale(1 1.08)"><tspan font-style="italic">N</tspan> = 15</text>
</g>
<text y="739.8" font-size="37.5"><tspan x="1262.25">（</tspan><tspan x="1301.85">b</tspan><tspan x="1325.4">）</tspan><tspan x="1359.4">r=0, </tspan><tspan font-style="italic" x="1432.4">σ</tspan><tspan x="1454.6" font-size="31.5" dy="5.25">3</tspan><tspan dy="-5.25" letter-spacing="0.55">=50kPa</tspan></text>
</g>
<g class="panel">
<clipPath id="cp2"><rect x="115.5" y="828.7" width="748.5" height="538"/></clipPath>
<g clip-path="url(#cp2)" fill="#fff">
<g stroke="#000000" stroke-width="1.9">
<rect x="109.9" y="823.1" width="11.2" height="11.2"/>
<rect x="119.93" y="838.86" width="11.2" height="11.2"/>
<rect x="129.96" y="853.56" width="11.2" height="11.2"/>
<rect x="139.99" y="867.56" width="11.2" height="11.2"/>
<rect x="150.02" y="881.47" width="11.2" height="11.2"/>
<rect x="160.05" y="895.87" width="11.2" height="11.2"/>
<rect x="170.08" y="910.97" width="11.2" height="11.2"/>
<rect x="180.11" y="923.04" width="11.2" height="11.2"/>
<rect x="190.14" y="933.91" width="11.2" height="11.2"/>
<rect x="200.17" y="946.24" width="11.2" height="11.2"/>
<rect x="210.2" y="957.91" width="11.2" height="11.2"/>
<rect x="220.23" y="967.52" width="11.2" height="11.2"/>
<rect x="230.26" y="977.26" width="11.2" height="11.2"/>
<rect x="240.29" y="987.29" width="11.2" height="11.2"/>
<rect x="250.32" y="997.33" width="11.2" height="11.2"/>
<rect x="260.35" y="1006.62" width="11.2" height="11.2"/>
<rect x="270.38" y="1016.16" width="11.2" height="11.2"/>
<rect x="280.41" y="1024.69" width="11.2" height="11.2"/>
<rect x="290.44" y="1033.71" width="11.2" height="11.2"/>
<rect x="300.47" y="1042.25" width="11.2" height="11.2"/>
<rect x="310.5" y="1050.53" width="11.2" height="11.2"/>
<rect x="320.53" y="1058.42" width="11.2" height="11.2"/>
<rect x="330.56" y="1065.96" width="11.2" height="11.2"/>
<rect x="340.59" y="1073.51" width="11.2" height="11.2"/>
<rect x="350.62" y="1079.81" width="11.2" height="11.2"/>
<rect x="360.65" y="1086.56" width="11.2" height="11.2"/>
<rect x="370.68" y="1093.34" width="11.2" height="11.2"/>
<rect x="380.71" y="1099.62" width="11.2" height="11.2"/>
<rect x="390.74" y="1106.14" width="11.2" height="11.2"/>
<rect x="400.77" y="1112.42" width="11.2" height="11.2"/>
<rect x="410.8" y="1118.44" width="11.2" height="11.2"/>
<rect x="420.83" y="1124.21" width="11.2" height="11.2"/>
<rect x="430.86" y="1129.98" width="11.2" height="11.2"/>
<rect x="440.89" y="1135.51" width="11.2" height="11.2"/>
<rect x="450.92" y="1141.02" width="11.2" height="11.2"/>
<rect x="460.95" y="1146.79" width="11.2" height="11.2"/>
<rect x="470.98" y="1152.31" width="11.2" height="11.2"/>
<rect x="481.01" y="1157.58" width="11.2" height="11.2"/>
<rect x="491.04" y="1161.85" width="11.2" height="11.2"/>
<rect x="501.07" y="1166.86" width="11.2" height="11.2"/>
<rect x="511.1" y="1170.63" width="11.2" height="11.2"/>
<rect x="531.16" y="1179.79" width="11.2" height="11.2"/>
<rect x="551.22" y="1188.58" width="11.2" height="11.2"/>
<rect x="571.28" y="1196.11" width="11.2" height="11.2"/>
<rect x="591.34" y="1202.95" width="11.2" height="11.2"/>
<rect x="611.39" y="1210.65" width="11.2" height="11.2"/>
<rect x="631.45" y="1217.99" width="11.2" height="11.2"/>
<rect x="651.51" y="1225.19" width="11.2" height="11.2"/>
<rect x="671.57" y="1232.54" width="11.2" height="11.2"/>
<rect x="691.63" y="1239.3" width="11.2" height="11.2"/>
<rect x="711.69" y="1247.32" width="11.2" height="11.2"/>
<rect x="731.75" y="1254.16" width="11.2" height="11.2"/>
<rect x="751.81" y="1262.37" width="11.2" height="11.2"/>
<rect x="771.87" y="1268.14" width="11.2" height="11.2"/>
<rect x="791.93" y="1273.53" width="11.2" height="11.2"/>
<rect x="811.99" y="1278.79" width="11.2" height="11.2"/>
<rect x="832.05" y="1284.8" width="11.2" height="11.2"/>
<rect x="852.11" y="1289.84" width="11.2" height="11.2"/>
<rect x="858.4" y="1290.94" width="11.2" height="11.2"/>
</g>
<g stroke="#ff0000" stroke-width="1.8">
<circle cx="115.5" cy="826" r="6.4"/>
<circle cx="125.31" cy="849.65" r="6.4"/>
<circle cx="135.11" cy="865.21" r="6.4"/>
<circle cx="144.92" cy="880.86" r="6.4"/>
<circle cx="154.72" cy="897.63" r="6.4"/>
<circle cx="164.53" cy="912.28" r="6.4"/>
<circle cx="174.33" cy="926.56" r="6.4"/>
<circle cx="184.14" cy="940.21" r="6.4"/>
<circle cx="193.94" cy="954.12" r="6.4"/>
<circle cx="203.75" cy="968.01" r="6.4"/>
<circle cx="213.55" cy="979.27" r="6.4"/>
<circle cx="223.36" cy="991.58" r="6.4"/>
<circle cx="233.16" cy="1003.76" r="6.4"/>
<circle cx="242.97" cy="1014.22" r="6.4"/>
<circle cx="252.77" cy="1023.53" r="6.4"/>
<circle cx="262.58" cy="1033.83" r="6.4"/>
<circle cx="272.39" cy="1042.85" r="6.4"/>
<circle cx="282.19" cy="1051.57" r="6.4"/>
<circle cx="292" cy="1059.85" r="6.4"/>
<circle cx="301.8" cy="1067.42" r="6.4"/>
<circle cx="311.61" cy="1074.87" r="6.4"/>
<circle cx="321.41" cy="1081.73" r="6.4"/>
<circle cx="331.22" cy="1089.11" r="6.4"/>
<circle cx="341.02" cy="1096.66" r="6.4"/>
<circle cx="350.83" cy="1104.39" r="6.4"/>
<circle cx="360.63" cy="1111.7" r="6.4"/>
<circle cx="370.44" cy="1118.3" r="6.4"/>
<circle cx="380.24" cy="1125.17" r="6.4"/>
<circle cx="390.05" cy="1131.79" r="6.4"/>
<circle cx="399.86" cy="1139.14" r="6.4"/>
<circle cx="409.66" cy="1146.87" r="6.4"/>
<circle cx="419.47" cy="1153.9" r="6.4"/>
<circle cx="429.27" cy="1160.33" r="6.4"/>
<circle cx="439.08" cy="1166.46" r="6.4"/>
<circle cx="448.88" cy="1172.85" r="6.4"/>
<circle cx="458.69" cy="1177.72" r="6.4"/>
<circle cx="468.49" cy="1182.61" r="6.4"/>
<circle cx="478.3" cy="1186.66" r="6.4"/>
<circle cx="488.1" cy="1192.83" r="6.4"/>
<circle cx="497.91" cy="1197.69" r="6.4"/>
<circle cx="507.71" cy="1202.1" r="6.4"/>
<circle cx="527.32" cy="1211.4" r="6.4"/>
<circle cx="546.94" cy="1219.97" r="6.4"/>
<circle cx="566.55" cy="1228.38" r="6.4"/>
<circle cx="586.16" cy="1237.46" r="6.4"/>
<circle cx="605.77" cy="1244.51" r="6.4"/>
<circle cx="625.38" cy="1252.64" r="6.4"/>
<circle cx="644.99" cy="1259.5" r="6.4"/>
<circle cx="664.6" cy="1267.03" r="6.4"/>
<circle cx="684.21" cy="1272.49" r="6.4"/>
<circle cx="703.82" cy="1278.12" r="6.4"/>
<circle cx="723.43" cy="1284.15" r="6.4"/>
<circle cx="743.04" cy="1289.94" r="6.4"/>
<circle cx="762.65" cy="1296.29" r="6.4"/>
<circle cx="782.26" cy="1299.95" r="6.4"/>
<circle cx="801.87" cy="1305.03" r="6.4"/>
<circle cx="821.49" cy="1309.45" r="6.4"/>
<circle cx="841.1" cy="1313.22" r="6.4"/>
<circle cx="864" cy="1318.06" r="6.4"/>
</g>
<g stroke="#00ff00" stroke-width="1.85">
<path d="M107.8 832.3L123.2 832.3L115.5 818.9Z"/>
<path d="M117.85 852.48L133.25 852.48L125.55 839.08Z"/>
<path d="M127.91 869.86L143.31 869.86L135.61 856.46Z"/>
<path d="M137.96 887.39L153.36 887.39L145.66 873.99Z"/>
<path d="M148.02 906.65L163.42 906.65L155.72 893.25Z"/>
<path d="M158.07 921.03L173.47 921.03L165.77 907.63Z"/>
<path d="M168.13 935.5L183.53 935.5L175.83 922.1Z"/>
<path d="M178.18 950.35L193.58 950.35L185.88 936.95Z"/>
<path d="M188.24 966.02L203.64 966.02L195.94 952.62Z"/>
<path d="M198.29 985.04L213.69 985.04L205.99 971.64Z"/>
<path d="M208.35 998.38L223.75 998.38L216.05 984.98Z"/>
<path d="M218.4 1011.41L233.8 1011.41L226.1 998.01Z"/>
<path d="M228.46 1024.33L243.86 1024.33L236.16 1010.93Z"/>
<path d="M238.51 1036.67L253.91 1036.67L246.21 1023.27Z"/>
<path d="M248.57 1048.93L263.97 1048.93L256.27 1035.53Z"/>
<path d="M258.62 1061.09L274.02 1061.09L266.32 1047.69Z"/>
<path d="M268.68 1072.31L284.08 1072.31L276.38 1058.91Z"/>
<path d="M278.73 1083.62L294.13 1083.62L286.43 1070.22Z"/>
<path d="M288.79 1094.97L304.19 1094.97L296.49 1081.57Z"/>
<path d="M298.84 1106.44L314.24 1106.44L306.54 1093.04Z"/>
<path d="M308.9 1113.98L324.3 1113.98L316.6 1100.58Z"/>
<path d="M318.95 1123.85L334.35 1123.85L326.65 1110.45Z"/>
<path d="M329.01 1133.93L344.41 1133.93L336.71 1120.53Z"/>
<path d="M339.06 1142.75L354.46 1142.75L346.76 1129.35Z"/>
<path d="M349.12 1151.05L364.52 1151.05L356.82 1137.65Z"/>
<path d="M359.17 1159.6L374.57 1159.6L366.87 1146.2Z"/>
<path d="M369.23 1167.14L384.63 1167.14L376.93 1153.74Z"/>
<path d="M379.28 1174.69L394.68 1174.69L386.98 1161.29Z"/>
<path d="M389.34 1181.73L404.74 1181.73L397.04 1168.33Z"/>
<path d="M399.39 1188.76L414.79 1188.76L407.09 1175.36Z"/>
<path d="M409.45 1195.54L424.85 1195.54L417.15 1182.14Z"/>
<path d="M419.5 1201.06L434.9 1201.06L427.2 1187.66Z"/>
<path d="M429.56 1206.84L444.96 1206.84L437.26 1193.44Z"/>
<path d="M439.61 1212.38L455.01 1212.38L447.31 1198.98Z"/>
<path d="M449.66 1218.13L465.06 1218.13L457.36 1204.73Z"/>
<path d="M459.72 1222.39L475.12 1222.39L467.42 1208.99Z"/>
<path d="M469.77 1227.42L485.17 1227.42L477.47 1214.02Z"/>
<path d="M479.83 1231.95L495.23 1231.95L487.53 1218.55Z"/>
<path d="M489.88 1236.97L505.28 1236.97L497.58 1223.57Z"/>
<path d="M499.94 1241.25L515.34 1241.25L507.64 1227.85Z"/>
<path d="M509.99 1246.29L525.39 1246.29L517.69 1232.89Z"/>
<path d="M530.1 1255.75L545.5 1255.75L537.8 1242.35Z"/>
<path d="M550.21 1261.99L565.61 1261.99L557.91 1248.59Z"/>
<path d="M570.32 1268.21L585.72 1268.21L578.02 1254.81Z"/>
<path d="M590.43 1272.75L605.83 1272.75L598.13 1259.35Z"/>
<path d="M610.54 1278.91L625.94 1278.91L618.24 1265.51Z"/>
<path d="M630.65 1284.45L646.05 1284.45L638.35 1271.05Z"/>
<path d="M650.76 1290.72L666.16 1290.72L658.46 1277.32Z"/>
<path d="M670.87 1295.78L686.27 1295.78L678.57 1282.38Z"/>
<path d="M690.98 1299.44L706.38 1299.44L698.68 1286.04Z"/>
<path d="M711.09 1304L726.49 1304L718.79 1290.6Z"/>
<path d="M731.2 1308.77L746.6 1308.77L738.9 1295.37Z"/>
<path d="M751.31 1313.32L766.71 1313.32L759.01 1299.92Z"/>
<path d="M771.42 1318.1L786.82 1318.1L779.12 1304.7Z"/>
<path d="M791.53 1320.12L806.93 1320.12L799.23 1306.72Z"/>
<path d="M811.64 1323.92L827.04 1323.92L819.34 1310.52Z"/>
<path d="M831.75 1326.95L847.15 1326.95L839.45 1313.55Z"/>
<path d="M851.86 1330.67L867.26 1330.67L859.56 1317.27Z"/>
<path d="M856.3 1331.23L871.7 1331.23L864 1317.83Z"/>
</g>
<g stroke="#0000ff" stroke-width="1.85">
<path d="M107.8 822.8L123.2 822.8L115.5 836.2Z"/>
<path d="M117.36 843L132.76 843L125.06 856.4Z"/>
<path d="M126.91 860.47L142.31 860.47L134.61 873.87Z"/>
<path d="M136.47 878.59L151.87 878.59L144.17 891.99Z"/>
<path d="M146.02 896.36L161.42 896.36L153.72 909.76Z"/>
<path d="M155.58 911.44L170.98 911.44L163.28 924.84Z"/>
<path d="M165.14 926.33L180.54 926.33L172.84 939.73Z"/>
<path d="M174.69 941.22L190.09 941.22L182.39 954.62Z"/>
<path d="M184.25 955.77L199.65 955.77L191.95 969.17Z"/>
<path d="M193.8 970.08L209.2 970.08L201.5 983.48Z"/>
<path d="M203.36 984.98L218.76 984.98L211.06 998.38Z"/>
<path d="M212.91 999.31L228.31 999.31L220.61 1012.71Z"/>
<path d="M222.47 1014.32L237.87 1014.32L230.17 1027.72Z"/>
<path d="M232.03 1025.74L247.43 1025.74L239.73 1039.14Z"/>
<path d="M241.58 1036.11L256.98 1036.11L249.28 1049.51Z"/>
<path d="M251.14 1047.9L266.54 1047.9L258.84 1061.3Z"/>
<path d="M260.69 1059.86L276.09 1059.86L268.39 1073.26Z"/>
<path d="M270.25 1072.32L285.65 1072.32L277.95 1085.72Z"/>
<path d="M279.81 1083.29L295.21 1083.29L287.51 1096.69Z"/>
<path d="M289.36 1094.51L304.76 1094.51L297.06 1107.91Z"/>
<path d="M298.92 1104.48L314.32 1104.48L306.62 1117.88Z"/>
<path d="M308.47 1115.14L323.87 1115.14L316.17 1128.54Z"/>
<path d="M318.03 1125.06L333.43 1125.06L325.73 1138.46Z"/>
<path d="M327.58 1134.93L342.98 1134.93L335.28 1148.33Z"/>
<path d="M337.14 1146.06L352.54 1146.06L344.84 1159.46Z"/>
<path d="M346.7 1155.82L362.1 1155.82L354.4 1169.22Z"/>
<path d="M356.25 1163.82L371.65 1163.82L363.95 1177.22Z"/>
<path d="M365.81 1171.88L381.21 1171.88L373.51 1185.28Z"/>
<path d="M375.36 1179.63L390.76 1179.63L383.06 1193.03Z"/>
<path d="M384.92 1186.84L400.32 1186.84L392.62 1200.24Z"/>
<path d="M394.48 1195.15L409.88 1195.15L402.18 1208.55Z"/>
<path d="M404.03 1202.42L419.43 1202.42L411.73 1215.82Z"/>
<path d="M413.59 1209.05L428.99 1209.05L421.29 1222.45Z"/>
<path d="M423.14 1217.56L438.54 1217.56L430.84 1230.96Z"/>
<path d="M432.7 1224.16L448.1 1224.16L440.4 1237.56Z"/>
<path d="M442.25 1229.74L457.65 1229.74L449.95 1243.14Z"/>
<path d="M451.81 1235.91L467.21 1235.91L459.51 1249.31Z"/>
<path d="M461.37 1241.32L476.77 1241.32L469.07 1254.72Z"/>
<path d="M470.92 1246.83L486.32 1246.83L478.62 1260.23Z"/>
<path d="M480.48 1253.39L495.88 1253.39L488.18 1266.79Z"/>
<path d="M490.03 1259.76L505.43 1259.76L497.73 1273.16Z"/>
<path d="M509.15 1276.16L524.55 1276.16L516.85 1289.56Z"/>
<path d="M528.26 1284.95L543.66 1284.95L535.96 1298.35Z"/>
<path d="M547.37 1292.37L562.77 1292.37L555.07 1305.77Z"/>
<path d="M566.48 1299.21L581.88 1299.21L574.18 1312.61Z"/>
<path d="M585.59 1301.03L600.99 1301.03L593.29 1314.43Z"/>
<path d="M604.7 1307.85L620.1 1307.85L612.4 1321.25Z"/>
<path d="M623.82 1311.7L639.22 1311.7L631.52 1325.1Z"/>
<path d="M642.93 1313.98L658.33 1313.98L650.63 1327.38Z"/>
<path d="M662.04 1317.78L677.44 1317.78L669.74 1331.18Z"/>
<path d="M681.15 1320.22L696.55 1320.22L688.85 1333.62Z"/>
<path d="M700.26 1322.73L715.66 1322.73L707.96 1336.13Z"/>
<path d="M719.37 1326.02L734.77 1326.02L727.07 1339.42Z"/>
<path d="M738.49 1329.08L753.89 1329.08L746.19 1342.48Z"/>
<path d="M757.6 1332.2L773 1332.2L765.3 1345.6Z"/>
<path d="M776.71 1334.7L792.11 1334.7L784.41 1348.1Z"/>
<path d="M795.82 1337.17L811.22 1337.17L803.52 1350.57Z"/>
<path d="M814.93 1339.18L830.33 1339.18L822.63 1352.58Z"/>
<path d="M834.04 1340.89L849.44 1340.89L841.74 1354.29Z"/>
<path d="M856.3 1344.7L871.7 1344.7L864 1358.1Z"/>
</g>
</g>
<g stroke="#000" stroke-width="1.8" fill="none" stroke-linecap="butt">
<rect x="115.5" y="828.7" width="748.5" height="538"/>
<path d="M365 1366.7v-10.5M614.5 1366.7v-10.5M240.25 1366.7v-5.5M489.75 1366.7v-5.5M739.25 1366.7v-5.5M115.5 936.3h10.5M115.5 1043.9h10.5M115.5 1151.5h10.5M115.5 1259.1h10.5M115.5 882.5h5.5M115.5 990.1h5.5M115.5 1097.7h5.5M115.5 1205.3h5.5M115.5 1312.9h5.5"/>
</g>
<g font-size="34.4" fill="#000">
<g text-anchor="end">
<text x="103.8" y="839.6">0</text>
<text x="103.8" y="947.2">1</text>
<text x="103.8" y="1054.8">2</text>
<text x="103.8" y="1162.4">3</text>
<text x="103.8" y="1270">4</text>
<text x="103.8" y="1377.6">5</text>
</g><g text-anchor="middle">
<text x="115.5" y="1405.5">0</text>
<text x="365" y="1405.5">5</text>
<text x="614.5" y="1405.5">10</text>
<text x="864" y="1405.5">15</text>
</g></g>
<g transform="translate(451.5 1439.9)"><text font-size="41.5" font-style="italic" transform="scale(1.24 1)" x="-0.3" y="0">ε</text><text font-size="27.39" font-style="italic" x="15.2" y="14.2">a</text><text font-size="41.5" x="36.6" y="0">/%</text></g>
<g transform="translate(60 1166.5) rotate(-90)"><text font-size="41.5" font-style="italic" transform="scale(1.24 1)" x="-0.3" y="0">ε</text><text font-size="27.39" font-style="italic" x="15.2" y="14.2">v</text><text font-size="41.5" x="36.6" y="0">/%</text></g>
<text y="883.7" font-size="33.8"><tspan x="579.8" font-style="italic">r</tspan><tspan x="602.5">=</tspan><tspan x="630.8">0,</tspan><tspan x="666.5" font-style="italic">σ</tspan><tspan x="685" font-size="20.28" dy="11.15">3</tspan><tspan x="701.9" dy="-11.15">=</tspan><tspan x="727.5" letter-spacing="-0.1">100kPa</tspan></text>
<g fill="#fff">
<g stroke="#000000" stroke-width="1.9"><rect x="692.7" y="959.9" width="11.2" height="11.2"/></g>
<g stroke="#ff0000" stroke-width="1.8"><circle cx="698.3" cy="1000.6" r="6.4"/></g>
<g stroke="#00ff00" stroke-width="1.85"><path d="M690.6 1040.4L706 1040.4L698.3 1027Z"/></g>
<g stroke="#0000ff" stroke-width="1.85"><path d="M690.6 1067.1L706 1067.1L698.3 1080.5Z"/></g>
</g>
<g font-size="30">
<text transform="translate(735.7 974.5) scale(1 1.08)"><tspan font-style="italic">N</tspan> = 0</text>
<text transform="translate(735.7 1010.2) scale(1 1.08)"><tspan font-style="italic">N</tspan> = 1</text>
<text transform="translate(735.7 1046) scale(1 1.08)"><tspan font-style="italic">N</tspan> = 5</text>
<text transform="translate(735.7 1081.7) scale(1 1.08)"><tspan font-style="italic">N</tspan> = 15</text>
</g>
<text y="1514" font-size="37.5"><tspan x="279.15">（</tspan><tspan x="318.75">c</tspan><tspan x="340.2">）</tspan><tspan x="374.2">r=0, </tspan><tspan font-style="italic" x="447.2">σ</tspan><tspan x="469.4" font-size="31.5" dy="5.25">3</tspan><tspan dy="-5.25" letter-spacing="0.55">=100kPa</tspan></text>
</g>
<g class="panel">
<clipPath id="cp3"><rect x="1092.5" y="823.7" width="769" height="552.2"/></clipPath>
<g clip-path="url(#cp3)" fill="#fff">
<g stroke="#000000" stroke-width="1.9">
<rect x="1086.9" y="818.1" width="11.2" height="11.2"/>
<rect x="1097.31" y="831.15" width="11.2" height="11.2"/>
<rect x="1107.71" y="843.09" width="11.2" height="11.2"/>
<rect x="1118.12" y="853.95" width="11.2" height="11.2"/>
<rect x="1128.53" y="865.34" width="11.2" height="11.2"/>
<rect x="1138.94" y="875.21" width="11.2" height="11.2"/>
<rect x="1149.34" y="885.33" width="11.2" height="11.2"/>
<rect x="1159.75" y="895.52" width="11.2" height="11.2"/>
<rect x="1170.16" y="905.45" width="11.2" height="11.2"/>
<rect x="1180.56" y="915.94" width="11.2" height="11.2"/>
<rect x="1190.97" y="925.22" width="11.2" height="11.2"/>
<rect x="1201.38" y="934.61" width="11.2" height="11.2"/>
<rect x="1211.79" y="943.65" width="11.2" height="11.2"/>
<rect x="1222.19" y="952.76" width="11.2" height="11.2"/>
<rect x="1232.6" y="961.43" width="11.2" height="11.2"/>
<rect x="1243.01" y="970.6" width="11.2" height="11.2"/>
<rect x="1253.41" y="979.2" width="11.2" height="11.2"/>
<rect x="1263.82" y="988.58" width="11.2" height="11.2"/>
<rect x="1274.23" y="997.26" width="11.2" height="11.2"/>
<rect x="1284.64" y="1005.43" width="11.2" height="11.2"/>
<rect x="1295.04" y="1014.31" width="11.2" height="11.2"/>
<rect x="1305.45" y="1022.25" width="11.2" height="11.2"/>
<rect x="1315.86" y="1030.41" width="11.2" height="11.2"/>
<rect x="1326.26" y="1039.29" width="11.2" height="11.2"/>
<rect x="1336.67" y="1047.22" width="11.2" height="11.2"/>
<rect x="1347.08" y="1055.39" width="11.2" height="11.2"/>
<rect x="1357.49" y="1064.27" width="11.2" height="11.2"/>
<rect x="1367.89" y="1072.45" width="11.2" height="11.2"/>
<rect x="1378.3" y="1080.88" width="11.2" height="11.2"/>
<rect x="1388.71" y="1088.76" width="11.2" height="11.2"/>
<rect x="1399.11" y="1096.2" width="11.2" height="11.2"/>
<rect x="1409.52" y="1103.39" width="11.2" height="11.2"/>
<rect x="1419.93" y="1110.5" width="11.2" height="11.2"/>
<rect x="1430.34" y="1117.94" width="11.2" height="11.2"/>
<rect x="1440.74" y="1124.63" width="11.2" height="11.2"/>
<rect x="1451.15" y="1131.73" width="11.2" height="11.2"/>
<rect x="1461.56" y="1138.68" width="11.2" height="11.2"/>
<rect x="1471.96" y="1145.38" width="11.2" height="11.2"/>
<rect x="1482.37" y="1151.74" width="11.2" height="11.2"/>
<rect x="1492.78" y="1157.44" width="11.2" height="11.2"/>
<rect x="1503.19" y="1163.67" width="11.2" height="11.2"/>
<rect x="1524" y="1174.98" width="11.2" height="11.2"/>
<rect x="1544.81" y="1185.48" width="11.2" height="11.2"/>
<rect x="1565.63" y="1195.65" width="11.2" height="11.2"/>
<rect x="1586.44" y="1206.62" width="11.2" height="11.2"/>
<rect x="1607.26" y="1214.86" width="11.2" height="11.2"/>
<rect x="1628.07" y="1223.47" width="11.2" height="11.2"/>
<rect x="1648.89" y="1229.72" width="11.2" height="11.2"/>
<rect x="1669.7" y="1236.76" width="11.2" height="11.2"/>
<rect x="1690.51" y="1243.88" width="11.2" height="11.2"/>
<rect x="1711.33" y="1248.36" width="11.2" height="11.2"/>
<rect x="1732.14" y="1253.4" width="11.2" height="11.2"/>
<rect x="1752.96" y="1258.86" width="11.2" height="11.2"/>
<rect x="1773.77" y="1263.93" width="11.2" height="11.2"/>
<rect x="1794.59" y="1267.62" width="11.2" height="11.2"/>
<rect x="1815.4" y="1271.67" width="11.2" height="11.2"/>
<rect x="1836.21" y="1276.43" width="11.2" height="11.2"/>
<rect x="1855.9" y="1280.4" width="11.2" height="11.2"/>
</g>
<g stroke="#ff0000" stroke-width="1.8">
<circle cx="1092.5" cy="823.7" r="6.4"/>
<circle cx="1102.57" cy="838.61" r="6.4"/>
<circle cx="1112.65" cy="852.3" r="6.4"/>
<circle cx="1122.72" cy="864.36" r="6.4"/>
<circle cx="1132.8" cy="874.68" r="6.4"/>
<circle cx="1142.87" cy="885.03" r="6.4"/>
<circle cx="1152.94" cy="895.61" r="6.4"/>
<circle cx="1163.02" cy="905.69" r="6.4"/>
<circle cx="1173.09" cy="916.36" r="6.4"/>
<circle cx="1183.17" cy="926" r="6.4"/>
<circle cx="1193.24" cy="935.53" r="6.4"/>
<circle cx="1203.31" cy="944.99" r="6.4"/>
<circle cx="1213.39" cy="955.04" r="6.4"/>
<circle cx="1223.46" cy="965.35" r="6.4"/>
<circle cx="1233.53" cy="975.7" r="6.4"/>
<circle cx="1243.61" cy="986.31" r="6.4"/>
<circle cx="1253.68" cy="997.42" r="6.4"/>
<circle cx="1263.76" cy="1009.51" r="6.4"/>
<circle cx="1273.83" cy="1019.15" r="6.4"/>
<circle cx="1283.9" cy="1027.68" r="6.4"/>
<circle cx="1293.98" cy="1035.75" r="6.4"/>
<circle cx="1304.05" cy="1044.01" r="6.4"/>
<circle cx="1314.13" cy="1052.58" r="6.4"/>
<circle cx="1324.2" cy="1061.15" r="6.4"/>
<circle cx="1334.27" cy="1069.67" r="6.4"/>
<circle cx="1344.35" cy="1078.07" r="6.4"/>
<circle cx="1354.42" cy="1086.29" r="6.4"/>
<circle cx="1364.5" cy="1094.56" r="6.4"/>
<circle cx="1374.57" cy="1102.87" r="6.4"/>
<circle cx="1384.64" cy="1110.94" r="6.4"/>
<circle cx="1394.72" cy="1118.46" r="6.4"/>
<circle cx="1404.79" cy="1125.14" r="6.4"/>
<circle cx="1414.86" cy="1130.76" r="6.4"/>
<circle cx="1424.94" cy="1135.73" r="6.4"/>
<circle cx="1435.01" cy="1140.7" r="6.4"/>
<circle cx="1445.09" cy="1146.3" r="6.4"/>
<circle cx="1455.16" cy="1153.11" r="6.4"/>
<circle cx="1465.23" cy="1160.15" r="6.4"/>
<circle cx="1475.31" cy="1166.45" r="6.4"/>
<circle cx="1485.38" cy="1173.26" r="6.4"/>
<circle cx="1495.46" cy="1180.3" r="6.4"/>
<circle cx="1515.6" cy="1192.27" r="6.4"/>
<circle cx="1535.75" cy="1204.11" r="6.4"/>
<circle cx="1555.9" cy="1215.19" r="6.4"/>
<circle cx="1576.05" cy="1225.29" r="6.4"/>
<circle cx="1596.2" cy="1234.12" r="6.4"/>
<circle cx="1616.34" cy="1242.83" r="6.4"/>
<circle cx="1636.49" cy="1250.65" r="6.4"/>
<circle cx="1656.64" cy="1258.53" r="6.4"/>
<circle cx="1676.79" cy="1265.34" r="6.4"/>
<circle cx="1696.93" cy="1272.25" r="6.4"/>
<circle cx="1717.08" cy="1277.81" r="6.4"/>
<circle cx="1737.23" cy="1283.55" r="6.4"/>
<circle cx="1757.38" cy="1288.11" r="6.4"/>
<circle cx="1777.53" cy="1292.89" r="6.4"/>
<circle cx="1797.67" cy="1297.32" r="6.4"/>
<circle cx="1817.82" cy="1301.6" r="6.4"/>
<circle cx="1837.97" cy="1306.15" r="6.4"/>
<circle cx="1861.5" cy="1309.75" r="6.4"/>
</g>
<g stroke="#00ff00" stroke-width="1.85">
<path d="M1084.8 830.4L1100.2 830.4L1092.5 817Z"/>
<path d="M1094.94 842L1110.34 842L1102.64 828.6Z"/>
<path d="M1105.08 856.08L1120.48 856.08L1112.78 842.68Z"/>
<path d="M1115.21 869.85L1130.61 869.85L1122.91 856.45Z"/>
<path d="M1125.35 881.83L1140.75 881.83L1133.05 868.43Z"/>
<path d="M1135.49 892.73L1150.89 892.73L1143.19 879.33Z"/>
<path d="M1145.63 903.34L1161.03 903.34L1153.33 889.94Z"/>
<path d="M1155.77 913.47L1171.17 913.47L1163.47 900.07Z"/>
<path d="M1165.9 924.2L1181.3 924.2L1173.6 910.8Z"/>
<path d="M1176.04 933.76L1191.44 933.76L1183.74 920.36Z"/>
<path d="M1186.18 943.38L1201.58 943.38L1193.88 929.98Z"/>
<path d="M1196.32 952.92L1211.72 952.92L1204.02 939.52Z"/>
<path d="M1206.46 963.15L1221.86 963.15L1214.16 949.75Z"/>
<path d="M1216.59 971.97L1231.99 971.97L1224.29 958.57Z"/>
<path d="M1226.73 981.29L1242.13 981.29L1234.43 967.89Z"/>
<path d="M1236.87 990.21L1252.27 990.21L1244.57 976.81Z"/>
<path d="M1247.01 999.5L1262.41 999.5L1254.71 986.1Z"/>
<path d="M1257.15 1009.15L1272.55 1009.15L1264.85 995.75Z"/>
<path d="M1267.28 1018.1L1282.68 1018.1L1274.98 1004.7Z"/>
<path d="M1277.42 1026.96L1292.82 1026.96L1285.12 1013.56Z"/>
<path d="M1287.56 1035.83L1302.96 1035.83L1295.26 1022.43Z"/>
<path d="M1297.7 1044.7L1313.1 1044.7L1305.4 1031.3Z"/>
<path d="M1307.84 1053.57L1323.24 1053.57L1315.54 1040.17Z"/>
<path d="M1317.97 1062.45L1333.37 1062.45L1325.67 1049.05Z"/>
<path d="M1328.11 1071.33L1343.51 1071.33L1335.81 1057.93Z"/>
<path d="M1338.25 1079.46L1353.65 1079.46L1345.95 1066.06Z"/>
<path d="M1348.39 1087.81L1363.79 1087.81L1356.09 1074.41Z"/>
<path d="M1358.53 1096.68L1373.93 1096.68L1366.23 1083.28Z"/>
<path d="M1368.66 1105.54L1384.06 1105.54L1376.36 1092.14Z"/>
<path d="M1378.8 1113.15L1394.2 1113.15L1386.5 1099.75Z"/>
<path d="M1388.94 1121.52L1404.34 1121.52L1396.64 1108.12Z"/>
<path d="M1399.08 1129.58L1414.48 1129.58L1406.78 1116.18Z"/>
<path d="M1409.22 1136.41L1424.62 1136.41L1416.92 1123.01Z"/>
<path d="M1419.35 1143.54L1434.75 1143.54L1427.05 1130.14Z"/>
<path d="M1429.49 1151.16L1444.89 1151.16L1437.19 1137.76Z"/>
<path d="M1439.63 1158.71L1455.03 1158.71L1447.33 1145.31Z"/>
<path d="M1449.77 1165.58L1465.17 1165.58L1457.47 1152.18Z"/>
<path d="M1459.91 1173.22L1475.31 1173.22L1467.61 1159.82Z"/>
<path d="M1470.04 1180.76L1485.44 1180.76L1477.74 1167.36Z"/>
<path d="M1480.18 1188.03L1495.58 1188.03L1487.88 1174.63Z"/>
<path d="M1490.32 1197.16L1505.72 1197.16L1498.02 1183.76Z"/>
<path d="M1510.6 1211.24L1526 1211.24L1518.3 1197.84Z"/>
<path d="M1530.87 1223.93L1546.27 1223.93L1538.57 1210.53Z"/>
<path d="M1551.15 1236.61L1566.55 1236.61L1558.85 1223.21Z"/>
<path d="M1571.42 1247.39L1586.82 1247.39L1579.12 1233.99Z"/>
<path d="M1591.7 1257.27L1607.1 1257.27L1599.4 1243.87Z"/>
<path d="M1611.98 1266.89L1627.38 1266.89L1619.68 1253.49Z"/>
<path d="M1632.25 1275.22L1647.65 1275.22L1639.95 1261.82Z"/>
<path d="M1652.53 1282.37L1667.93 1282.37L1660.23 1268.97Z"/>
<path d="M1672.8 1289.97L1688.2 1289.97L1680.5 1276.57Z"/>
<path d="M1693.08 1297.02L1708.48 1297.02L1700.78 1283.62Z"/>
<path d="M1713.35 1302.67L1728.75 1302.67L1721.05 1289.27Z"/>
<path d="M1733.63 1308.23L1749.03 1308.23L1741.33 1294.83Z"/>
<path d="M1753.91 1313.26L1769.31 1313.26L1761.61 1299.86Z"/>
<path d="M1774.18 1317.64L1789.58 1317.64L1781.88 1304.24Z"/>
<path d="M1794.46 1321.95L1809.86 1321.95L1802.16 1308.55Z"/>
<path d="M1814.73 1326.25L1830.13 1326.25L1822.43 1312.85Z"/>
<path d="M1835.01 1330.25L1850.41 1330.25L1842.71 1316.85Z"/>
<path d="M1853.8 1333.2L1869.2 1333.2L1861.5 1319.8Z"/>
</g>
<g stroke="#0000ff" stroke-width="1.85">
<path d="M1084.8 818.3L1100.2 818.3L1092.5 831.7Z"/>
<path d="M1094.68 833.97L1110.08 833.97L1102.38 847.37Z"/>
<path d="M1104.56 848.59L1119.96 848.59L1112.26 861.99Z"/>
<path d="M1114.44 861.86L1129.84 861.86L1122.14 875.26Z"/>
<path d="M1124.33 874.36L1139.73 874.36L1132.03 887.76Z"/>
<path d="M1134.21 886.49L1149.61 886.49L1141.91 899.89Z"/>
<path d="M1144.09 898.96L1159.49 898.96L1151.79 912.36Z"/>
<path d="M1153.97 910.97L1169.37 910.97L1161.67 924.37Z"/>
<path d="M1163.85 923.16L1179.25 923.16L1171.55 936.56Z"/>
<path d="M1173.73 933.94L1189.13 933.94L1181.43 947.34Z"/>
<path d="M1183.62 945.21L1199.02 945.21L1191.32 958.61Z"/>
<path d="M1193.5 955.41L1208.9 955.41L1201.2 968.81Z"/>
<path d="M1203.38 964.53L1218.78 964.53L1211.08 977.93Z"/>
<path d="M1213.26 974.98L1228.66 974.98L1220.96 988.38Z"/>
<path d="M1223.14 986.82L1238.54 986.82L1230.84 1000.22Z"/>
<path d="M1233.02 996.67L1248.42 996.67L1240.72 1010.07Z"/>
<path d="M1242.91 1005.31L1258.31 1005.31L1250.61 1018.71Z"/>
<path d="M1252.79 1015.19L1268.19 1015.19L1260.49 1028.59Z"/>
<path d="M1262.67 1025.07L1278.07 1025.07L1270.37 1038.47Z"/>
<path d="M1272.55 1034.92L1287.95 1034.92L1280.25 1048.32Z"/>
<path d="M1282.43 1042.91L1297.83 1042.91L1290.13 1056.31Z"/>
<path d="M1292.31 1051.56L1307.71 1051.56L1300.01 1064.96Z"/>
<path d="M1302.2 1060.21L1317.6 1060.21L1309.9 1073.61Z"/>
<path d="M1312.08 1068.86L1327.48 1068.86L1319.78 1082.26Z"/>
<path d="M1321.96 1076.9L1337.36 1076.9L1329.66 1090.3Z"/>
<path d="M1331.84 1086.68L1347.24 1086.68L1339.54 1100.08Z"/>
<path d="M1341.72 1095.32L1357.12 1095.32L1349.42 1108.72Z"/>
<path d="M1351.6 1103.96L1367 1103.96L1359.3 1117.36Z"/>
<path d="M1361.49 1113.84L1376.89 1113.84L1369.19 1127.24Z"/>
<path d="M1371.37 1122.31L1386.77 1122.31L1379.07 1135.71Z"/>
<path d="M1381.25 1130.36L1396.65 1130.36L1388.95 1143.76Z"/>
<path d="M1391.13 1136.65L1406.53 1136.65L1398.83 1150.05Z"/>
<path d="M1401.01 1143.46L1416.41 1143.46L1408.71 1156.86Z"/>
<path d="M1410.89 1150.45L1426.29 1150.45L1418.59 1163.85Z"/>
<path d="M1420.78 1157.47L1436.18 1157.47L1428.48 1170.87Z"/>
<path d="M1430.66 1164.36L1446.06 1164.36L1438.36 1177.76Z"/>
<path d="M1440.54 1171.06L1455.94 1171.06L1448.24 1184.46Z"/>
<path d="M1450.42 1177.09L1465.82 1177.09L1458.12 1190.49Z"/>
<path d="M1460.3 1183.37L1475.7 1183.37L1468 1196.77Z"/>
<path d="M1470.18 1189.73L1485.58 1189.73L1477.88 1203.13Z"/>
<path d="M1480.07 1194.89L1495.47 1194.89L1487.77 1208.29Z"/>
<path d="M1499.83 1207.67L1515.23 1207.67L1507.53 1221.07Z"/>
<path d="M1519.59 1218.79L1534.99 1218.79L1527.29 1232.19Z"/>
<path d="M1539.36 1229.94L1554.76 1229.94L1547.06 1243.34Z"/>
<path d="M1559.12 1241.59L1574.52 1241.59L1566.82 1254.99Z"/>
<path d="M1578.88 1252.46L1594.28 1252.46L1586.58 1265.86Z"/>
<path d="M1598.65 1263.23L1614.05 1263.23L1606.35 1276.63Z"/>
<path d="M1618.41 1271.6L1633.81 1271.6L1626.11 1285Z"/>
<path d="M1638.17 1280.24L1653.57 1280.24L1645.87 1293.64Z"/>
<path d="M1657.94 1288.65L1673.34 1288.65L1665.64 1302.05Z"/>
<path d="M1677.7 1296.51L1693.1 1296.51L1685.4 1309.91Z"/>
<path d="M1697.46 1303.93L1712.86 1303.93L1705.16 1317.33Z"/>
<path d="M1717.23 1310.69L1732.63 1310.69L1724.93 1324.09Z"/>
<path d="M1736.99 1317.53L1752.39 1317.53L1744.69 1330.93Z"/>
<path d="M1756.75 1323.96L1772.15 1323.96L1764.45 1337.36Z"/>
<path d="M1776.52 1329.54L1791.92 1329.54L1784.22 1342.94Z"/>
<path d="M1796.28 1335.04L1811.68 1335.04L1803.98 1348.44Z"/>
<path d="M1816.04 1339.44L1831.44 1339.44L1823.74 1352.84Z"/>
<path d="M1835.81 1343.8L1851.21 1343.8L1843.51 1357.2Z"/>
<path d="M1853.8 1346.05L1869.2 1346.05L1861.5 1359.45Z"/>
</g>
</g>
<g stroke="#000" stroke-width="1.8" fill="none" stroke-linecap="butt">
<rect x="1092.5" y="823.7" width="769" height="552.2"/>
<path d="M1348.83 1375.9v-10.5M1605.17 1375.9v-10.5M1220.67 1375.9v-5.5M1477 1375.9v-5.5M1733.33 1375.9v-5.5M1092.5 946.41h10.5M1092.5 1069.12h10.5M1092.5 1191.83h10.5M1092.5 1314.54h10.5M1092.5 885.06h5.5M1092.5 1007.77h5.5M1092.5 1130.48h5.5M1092.5 1253.19h5.5"/>
</g>
<g font-size="34.8" fill="#000">
<g text-anchor="end">
<text x="1081.6" y="835.1">0</text>
<text x="1081.6" y="957.81">2</text>
<text x="1081.6" y="1080.52">4</text>
<text x="1081.6" y="1203.23">6</text>
<text x="1081.6" y="1325.94">8</text>
</g><g text-anchor="middle">
<text x="1093.5" y="1416.6">0</text>
<text x="1349.83" y="1416.6">5</text>
<text x="1606.17" y="1416.6">10</text>
<text x="1862.5" y="1416.6">15</text>
</g></g>
<g transform="translate(1437.8 1452.2)"><text font-size="41.5" font-style="italic" transform="scale(1.24 1)" x="-0.3" y="0">ε</text><text font-size="27.39" font-style="italic" x="15.2" y="14.2">a</text><text font-size="41.5" x="36.6" y="0">/%</text></g>
<g transform="translate(1036 1169.6) rotate(-90)"><text font-size="41.5" font-style="italic" transform="scale(1.24 1)" x="-0.3" y="0">ε</text><text font-size="27.39" font-style="italic" x="15.2" y="14.2">v</text><text font-size="41.5" x="36.6" y="0">/%</text></g>
<text y="874.1" font-size="33.8"><tspan x="1587" font-style="italic">r</tspan><tspan x="1609.7">=</tspan><tspan x="1638">0,</tspan><tspan x="1673.7" font-style="italic">σ</tspan><tspan x="1692.2" font-size="20.28" dy="11.15">3</tspan><tspan x="1709.1" dy="-11.15">=</tspan><tspan x="1738" letter-spacing="0.3">200kPa</tspan></text>
<g fill="#fff">
<g stroke="#000000" stroke-width="1.9"><rect x="1662.8" y="937.1" width="11.2" height="11.2"/></g>
<g stroke="#ff0000" stroke-width="1.8"><circle cx="1668.4" cy="979.2" r="6.4"/></g>
<g stroke="#00ff00" stroke-width="1.85"><path d="M1660.7 1020.4L1676.1 1020.4L1668.4 1007Z"/></g>
<g stroke="#0000ff" stroke-width="1.85"><path d="M1660.7 1047.8L1676.1 1047.8L1668.4 1061.2Z"/></g>
</g>
<g font-size="30">
<text transform="translate(1707.1 951.9) scale(1 1.08)"><tspan font-style="italic">N</tspan> = 0</text>
<text transform="translate(1707.1 988.1) scale(1 1.08)"><tspan font-style="italic">N</tspan> = 1</text>
<text transform="translate(1707.1 1024.2) scale(1 1.08)"><tspan font-style="italic">N</tspan> = 5</text>
<text transform="translate(1707.1 1061.2) scale(1 1.08)"><tspan font-style="italic">N</tspan> = 15</text>
</g>
<text y="1527.8" font-size="37.5"><tspan x="1262.25">（</tspan><tspan x="1301.85">d</tspan><tspan x="1325.4">）</tspan><tspan x="1359.4">r=0, </tspan><tspan font-style="italic" x="1432.4">σ</tspan><tspan x="1454.6" font-size="31.5" dy="5.25">3</tspan><tspan dy="-5.25" letter-spacing="0.55">=200kPa</tspan></text>
</g>
<line x1="905.5" y1="788" x2="905.5" y2="1460" stroke="#efefef" stroke-width="1"/>
</svg></body></html>
